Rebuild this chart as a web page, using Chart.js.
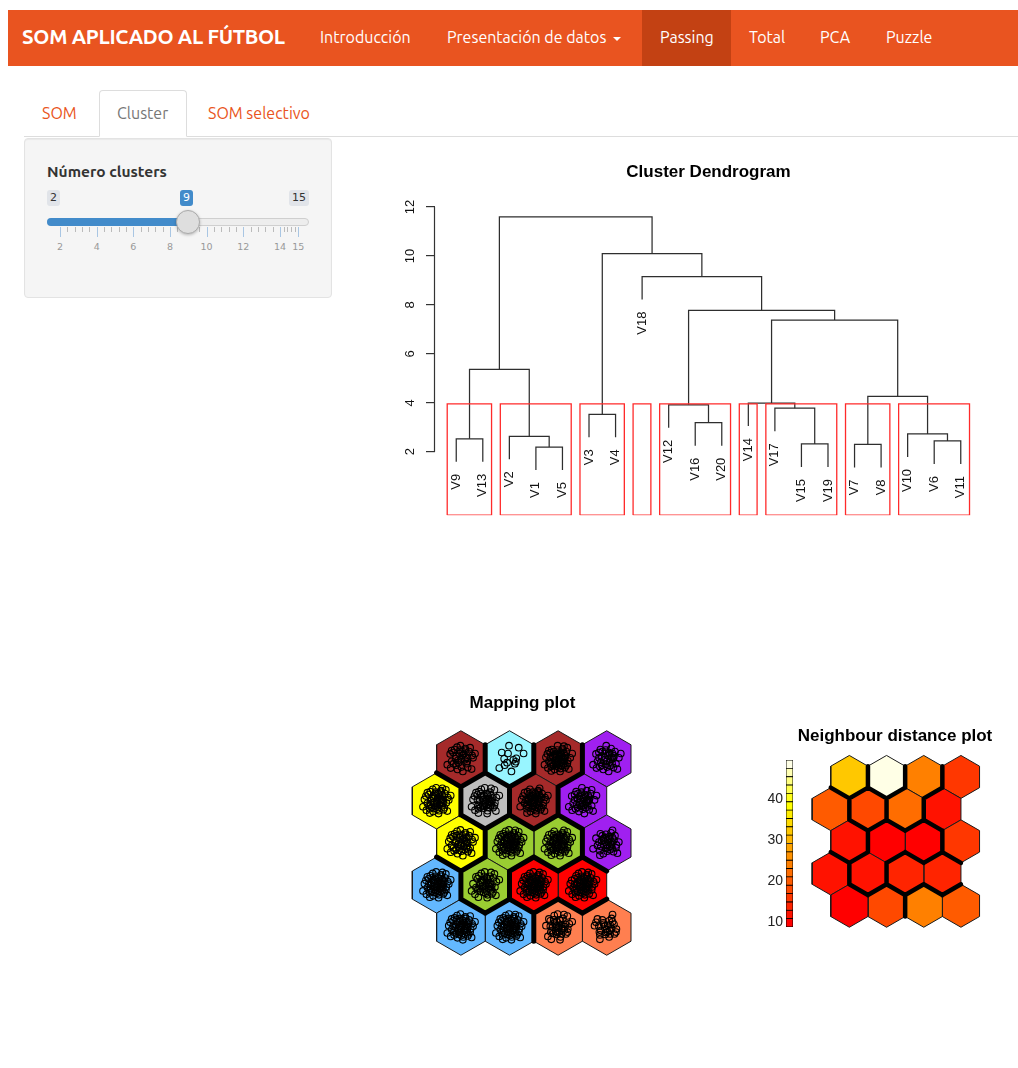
<!DOCTYPE html>
<html>
<head>
<meta charset="utf-8">
<title>SOM aplicado al fútbol</title>
<script src="https://cdn.jsdelivr.net/npm/chart.js@4.4.1/dist/chart.umd.min.js"></script>
<style>
  html, body { margin: 0; padding: 0; background: #fff; width: 1018px; height: 1068px; overflow: hidden;
               font-family: "Ubuntu", "Open Sans", "Noto Sans", sans-serif; }
  .nav { position: absolute; left: 8px; top: 10px; width: 1010px; height: 56px; background: #E95420; }
  .nav .active { position: absolute; left: 634px; top: 0; width: 89px; height: 56px; background: #C34113; }
  .nav .brand { position: absolute; top: 0; line-height: 54px; color: #fff; font-weight: 700; font-size: 20.5px; letter-spacing: -0.3px; white-space: nowrap; }
  .nav .item { position: absolute; top: 0; line-height: 54px; color: #fff; font-size: 16px; white-space: nowrap; }
  .caret { display: inline-block; width: 0; height: 0; margin-left: 7px; vertical-align: middle;
           border-top: 4px solid #fff; border-left: 4px solid transparent; border-right: 4px solid transparent; }
  .tabline { position: absolute; left: 24px; top: 136px; width: 994px; height: 0; border-bottom: 1px solid #ddd; }
  .tabbox { position: absolute; left: 99px; top: 90px; width: 88px; height: 47px; box-sizing: border-box;
            border: 1px solid #ddd; border-bottom-color: #fff; border-radius: 4px 4px 0 0; background: #fff; }
  .tab { position: absolute; top: 103px; line-height: 20px; font-size: 16px; white-space: nowrap; }
  .well { position: absolute; left: 24px; top: 138px; width: 308px; height: 160px; box-sizing: border-box;
          background: #f5f5f5; border: 1px solid #e3e3e3; border-radius: 4px; box-shadow: inset 0 1px 1px rgba(0,0,0,.05); }
  .lbl { position: absolute; left: 47px; top: 162px; line-height: 20px; font-size: 15.5px; font-weight: 600; color: #333; white-space: nowrap; }
  .sl-box { position: absolute; top: 190px; height: 16px; line-height: 16px; font-size: 11px; padding: 0 3px;
            border-radius: 3px; font-family: Verdana, "DejaVu Sans", sans-serif; }
  .sl-bar { position: absolute; left: 47px; top: 218px; width: 262px; height: 8px; box-sizing: border-box;
            background: #ededed; border: 1px solid #cfcfcf; border-radius: 4px; }
  .sl-fill { position: absolute; left: 47px; top: 218px; width: 141px; height: 8px; background: #428bca; border-radius: 4px 0 0 4px; }
  .sl-handle { position: absolute; left: 176px; top: 210px; width: 24px; height: 24px; box-sizing: border-box; border-radius: 50%;
               background: #dedede; border: 1px solid #ababab; box-shadow: 0 1px 3px rgba(0,0,0,.25); }
  .tick { position: absolute; top: 227px; width: 1px; }
  .tlab { position: absolute; top: 240px; width: 20px; margin-left: -10px; text-align: center; line-height: 14px;
          font-size: 9.5px; color: #999; font-family: Verdana, "DejaVu Sans", sans-serif; }
  canvas { position: absolute; }
</style>
</head>
<body>

<div class="nav">
  <div class="active"></div>
  <span class="brand" style="left:14px">SOM APLICADO AL FÚTBOL</span>
  <span class="item" style="left:312px">Introducción</span>
  <span class="item" style="left:439px">Presentación de datos<b class="caret"></b></span>
  <span class="item" style="left:652px">Passing</span>
  <span class="item" style="left:741px">Total</span>
  <span class="item" style="left:812px">PCA</span>
  <span class="item" style="left:878px">Puzzle</span>
</div>

<div class="tabline"></div>
<div class="tabbox"></div>
<span class="tab" style="left:42px;color:#E95420">SOM</span>
<span class="tab" style="left:117px;color:#777">Cluster</span>
<span class="tab" style="left:208px;color:#E95420">SOM selectivo</span>

<div class="well"></div>
<div class="lbl">Número clusters</div>
<div id="slider"></div>

<canvas id="dendro" width="628" height="381" style="left:390px;top:150px"></canvas>
<canvas id="mapping" width="245" height="280" style="left:400px;top:685px"></canvas>
<canvas id="colorbar" width="45" height="180" style="left:755px;top:755px"></canvas>
<canvas id="neigh" width="200" height="215" style="left:795px;top:720px"></canvas>

<script>
// ---------------- Slider input: number of clusters ----------------
const SLIDER_MIN = 2, SLIDER_MAX = 15, SLIDER_VALUE = 9;
const SLIDER_LABELS = [2, 4, 6, 8, 10, 12, 14, 15];

(function buildSlider() {
  const host = document.getElementById('slider');
  const px = v => 60 + (v - SLIDER_MIN) * (238.3 / (SLIDER_MAX - SLIDER_MIN));
  const add = (cls, style, text) => {
    const d = document.createElement('div');
    d.className = cls; d.setAttribute('style', style);
    if (text !== undefined) d.textContent = text;
    host.appendChild(d);
  };
  add('sl-bar', '');
  add('sl-fill', 'width:' + (px(SLIDER_VALUE) - 47) + 'px');
  // grid: big ticks at labelled values, four small ticks between each pair
  for (let i = 0; i < SLIDER_LABELS.length; i++) {
    const v = SLIDER_LABELS[i];
    add('tick', 'left:' + px(v).toFixed(1) + 'px;height:10px;background:#a9c6e3');
    add('tlab', 'left:' + px(v).toFixed(1) + 'px', String(v));
    if (i < SLIDER_LABELS.length - 1) {
      for (let s = 1; s <= 4; s++) {
        add('tick', 'left:' + px(v + s * 0.4 * (i === SLIDER_LABELS.length - 2 ? 0.5 : 1)).toFixed(1) + 'px;height:5px;background:#bbb');
      }
    }
  }
  add('sl-box', 'left:47px;background:#e1e4e9;color:#333', String(SLIDER_MIN));
  add('sl-box', 'left:289px;background:#e1e4e9;color:#333', String(SLIDER_MAX));
  add('sl-box', 'left:180px;background:#428bca;color:#fff', String(SLIDER_VALUE));
  add('sl-handle', 'left:' + (px(SLIDER_VALUE) - 12) + 'px');
})();

// ---------------- Hierarchical clustering (dendrogram) ----------------
const leafOrder = ['V9','V13','V2','V1','V5','V3','V4','V18','V12','V16','V20','V14','V17','V15','V19','V7','V8','V10','V6','V11'];
// merges in hclust order: a string is a leaf, a number is an earlier merge (1-based)
const mergeLeft   = ['V1','V7','V15','V6','V9','V2','V10','V16','V3','V17','V12','V14', 2, 5, 12, 11,'V18', 9, 14];
const mergeRight  = ['V5','V8','V19','V11','V13', 1, 4,'V20','V4', 3, 8, 10, 7, 6, 13, 15, 16, 17, 18];
const mergeHeight = [2.19, 2.30, 2.32, 2.44, 2.53, 2.63, 2.73, 3.19, 3.53, 3.78, 3.92, 3.99, 4.26, 5.37, 7.38, 7.78, 9.16, 10.10, 11.60];
const yTickValues = [2, 4, 6, 8, 10, 12];
const clusterCount = SLIDER_VALUE;
const HANG = 0.1;
const DENDRO_YMIN = -0.593, DENDRO_YMAX = 12.41;

const leafPos = {};
leafOrder.forEach((n, i) => { leafPos[n] = i + 1; });
const hRange = Math.max(...mergeHeight) - Math.min(...mergeHeight);
const drop = HANG * hRange;
const nodeX = [];
const leafEnd = {};
const linkSets = [];

function childPoint(c, parentH) {
  if (typeof c === 'string') { leafEnd[c] = parentH - drop; return { x: leafPos[c], y: parentH - drop }; }
  return { x: nodeX[c - 1], y: mergeHeight[c - 1] };
}
for (let i = 0; i < mergeHeight.length; i++) {
  const h = mergeHeight[i];
  const a = childPoint(mergeLeft[i], h), b = childPoint(mergeRight[i], h);
  nodeX[i] = (a.x + b.x) / 2;
  linkSets.push({
    data: [{ x: a.x, y: a.y }, { x: a.x, y: h }, { x: b.x, y: h }, { x: b.x, y: b.y }],
    showLine: true, borderColor: '#2e2e2e', borderWidth: 1.25, pointRadius: 0, fill: false, order: 2
  });
}

// cut tree into k groups (as rect.hclust does)
const sortedH = [...mergeHeight].sort((p, q) => q - p);
const cutH = (sortedH[clusterCount - 2] + sortedH[clusterCount - 1]) / 2;
function leavesOf(c) {
  if (typeof c === 'string') return [leafPos[c]];
  return leavesOf(mergeLeft[c - 1]).concat(leavesOf(mergeRight[c - 1]));
}
const groups = [];
(function cut(c) {
  if (typeof c === 'number' && mergeHeight[c - 1] > cutH) { cut(mergeLeft[c - 1]); cut(mergeRight[c - 1]); }
  else groups.push(leavesOf(c));
})(mergeHeight.length);

const rectSets = groups.map(g => {
  const l = Math.min(...g) - 0.34, r = Math.max(...g) + 0.33;
  return {
    data: [{ x: l, y: DENDRO_YMIN }, { x: l, y: cutH }, { x: r, y: cutH }, { x: r, y: DENDRO_YMIN }, { x: l, y: DENDRO_YMIN }],
    showLine: true, borderColor: '#ff2a2a', borderWidth: 1.3, pointRadius: 0, fill: false, order: 1
  };
});

const dendroDecor = {
  id: 'dendroDecor',
  afterDatasetsDraw(chart) {
    const { ctx, scales: { x, y } } = chart;
    ctx.save();
    // axis line spanning the labelled range only
    ctx.strokeStyle = '#333'; ctx.lineWidth = 1.2;
    ctx.beginPath();
    ctx.moveTo(y.right - 0.5, y.getPixelForValue(yTickValues[0]));
    ctx.lineTo(y.right - 0.5, y.getPixelForValue(yTickValues[yTickValues.length - 1]));
    ctx.stroke();
    // leaf labels, written upwards and hanging below each leaf
    ctx.font = '13px "Liberation Sans", Arial, sans-serif';
    ctx.fillStyle = '#111';
    ctx.textAlign = 'right';
    ctx.textBaseline = 'middle';
    leafOrder.forEach(n => {
      ctx.save();
      ctx.translate(x.getPixelForValue(leafPos[n]), y.getPixelForValue(leafEnd[n]) + 12);
      ctx.rotate(-Math.PI / 2);
      ctx.fillText(n, 0, 0);
      ctx.restore();
    });
    ctx.restore();
  }
};

new Chart(document.getElementById('dendro'), {
  type: 'scatter',
  data: { datasets: [...linkSets, ...rectSets] },
  options: {
    responsive: false, animation: false, events: [],
    layout: { autoPadding: false, padding: { left: 0, right: 36, top: 0, bottom: 7 } },
    plugins: {
      legend: { display: false }, tooltip: { enabled: false },
      title: { display: true, text: 'Cluster Dendrogram', fullSize: false, color: '#000',
               font: { family: '"Liberation Sans", Arial, sans-serif', size: 17, weight: 'bold', lineHeight: 1 },
               padding: { top: 14, bottom: 16 } }
    },
    scales: {
      x: { type: 'linear', display: false, min: 0.2, max: 20.8 },
      y: {
        type: 'linear', min: DENDRO_YMIN, max: DENDRO_YMAX,
        afterFit(s) { s.width = 45; },
        afterBuildTicks(s) { s.ticks = yTickValues.map(v => ({ value: v })); },
        border: { display: false },
        grid: { drawOnChartArea: false, drawTicks: true, tickLength: 9, color: '#333', lineWidth: 1.2 },
        ticks: { autoSkip: false, minRotation: 90, maxRotation: 90, crossAlign: 'center', padding: 8, color: '#111',
                 font: { family: '"Liberation Sans", Arial, sans-serif', size: 13 } }
      }
    }
  },
  plugins: [dendroDecor]
});

// ---------------- SOM grid (4 x 5 hexagonal) ----------------
const GRID_X = 4, GRID_Y = 5;
// one entry per unit, bottom row first, left to right
const unitCluster = [
  'blue','blue','coral','coral',
  'blue','green','red','red',
  'yellow','green','green','purple',
  'yellow','gray','brown','purple',
  'brown','cyan','brown','purple'
];
const clusterColor = {
  blue: '#63B8FF', coral: '#FF7F50', green: '#9ACD32', red: '#FF0000', yellow: '#FFFF00',
  purple: '#A020F0', gray: '#BEBEBE', brown: '#A52A2A', cyan: '#98F5FF'
};
const unitHits = [
  60, 64, 42, 30,
  64, 48, 64, 62,
  50, 64, 60, 40,
  58, 52, 56, 46,
  38, 14, 60, 40
];
// scatter offsets (grid units) used to spread mapped samples inside a unit
const spread = [
  [0.02,0.04],[-0.07,0.09],[0.10,-0.03],[-0.12,-0.07],[0.05,0.13],[-0.02,-0.11],[0.15,0.06],[-0.16,0.02],
  [0.07,-0.14],[-0.09,0.15],[0.19,-0.10],[-0.04,0.02],[0.00,-0.05],[0.12,0.11],[-0.14,-0.16],[0.06,-0.07],
  [-0.22,0.10],[0.09,0.21],[0.25,0.02],[-0.07,-0.22],[0.03,0.07],[-0.10,0.05],[0.14,-0.18],[-0.02,0.18],
  [0.17,0.15],[-0.19,-0.05],[0.01,-0.17],[0.10,0.02],[-0.06,-0.03],[0.22,-0.21],[-0.13,0.19],[0.06,0.10],
  [-0.28,-0.12],[0.11,-0.10],[-0.03,0.11],[0.29,0.11],[-0.10,-0.13],[0.04,-0.26],[-0.16,0.13],[0.14,0.01],
  [-0.01,0.27],[0.08,-0.02],[-0.21,-0.19],[0.19,0.23],[-0.05,-0.08],[0.13,-0.06],[-0.11,0.00],[0.03,0.15],
  [0.23,0.07],[-0.08,0.24],[0.00,0.00],[-0.15,-0.10],[0.10,0.18],[-0.19,0.17],[0.16,-0.14],[-0.03,-0.15],
  [0.07,0.05],[-0.25,0.03],[0.05,-0.20],[0.20,-0.04],[-0.06,0.06],[0.12,0.26],[-0.14,-0.25],[0.02,-0.10]
];
// mean distance of each unit to its neighbours, bottom row first
const neighbourDist = [
  10.5, 18.0, 24.0, 20.0,
  11.0, 12.5, 13.2, 14.5,
  12.0,  8.9,  9.5, 15.5,
  20.5, 18.5, 22.0, 11.5,
  32.0, 49.6, 24.5, 16.5
];
const heatColors = ['#FF0000','#FF1200','#FF2400','#FF3700','#FF4900','#FF5B00','#FF6D00','#FF8000','#FF9200','#FFA400',
                    '#FFB600','#FFC800','#FFDB00','#FFED00','#FFFF00','#FFFF1A','#FFFF4D','#FFFF80','#FFFFB3','#FFFFE6'];
const colorbarTicks = [10, 20, 30, 40];

const SQ3 = Math.sqrt(3);
function unitCenter(i) {
  const row = Math.floor(i / GRID_X) + 1, col = (i % GRID_X) + 1;
  return { x: col + 0.5 * (row % 2), y: row * SQ3 / 2 };
}
function hexOutline(c) {
  const pts = [];
  for (let k = 0; k <= 6; k++) {
    const a = Math.PI / 2 + k * Math.PI / 3;
    pts.push({ x: c.x + Math.cos(a) / SQ3, y: c.y + Math.sin(a) / SQ3 });
  }
  return pts;
}
function hexSets(fills) {
  return unitCluster.map((_, i) => ({
    data: hexOutline(unitCenter(i)), showLine: true, fill: 'shape', backgroundColor: fills[i],
    borderColor: '#1a1a1a', borderWidth: 1, pointRadius: 0, order: 3
  }));
}
// shared edges between neighbouring units of different clusters
function boundarySet(width) {
  const pts = [];
  for (let i = 0; i < unitCluster.length; i++) {
    for (let j = i + 1; j < unitCluster.length; j++) {
      if (unitCluster[i] === unitCluster[j]) continue;
      const a = unitCenter(i), b = unitCenter(j);
      const dx = b.x - a.x, dy = b.y - a.y;
      if (Math.hypot(dx, dy) > 1.01) continue;
      const mx = (a.x + b.x) / 2, my = (a.y + b.y) / 2, h = 0.5 / SQ3;
      pts.push({ x: mx + dy * h, y: my - dx * h }, { x: mx - dy * h, y: my + dx * h }, { x: NaN, y: NaN });
    }
  }
  return { data: pts, showLine: true, spanGaps: false, borderColor: '#000', borderWidth: width,
           borderCapStyle: 'round', pointRadius: 0, fill: false, order: 2 };
}
// scale limits so that one grid unit has the same pixel size on both axes
function hexScales(width, height, cx, cy, ppu) {
  return {
    x: { type: 'linear', display: false, min: 2.75 - cx / ppu, max: 2.75 - cx / ppu + width / ppu },
    y: { type: 'linear', display: false, min: (GRID_Y + 1) * SQ3 / 4 - cy / ppu, max: (GRID_Y + 1) * SQ3 / 4 - cy / ppu + height / ppu }
  };
}
const titleFont = { family: '"Liberation Sans", Arial, sans-serif', size: 17, weight: 'bold', lineHeight: 1 };

// mapping plot: samples spread around the unit they map to
const samplePts = [];
unitHits.forEach((n, i) => {
  const c = unitCenter(i), start = (i * 17) % spread.length;
  for (let k = 0; k < n; k++) {
    const o = spread[(start + k) % spread.length];
    samplePts.push({ x: c.x + o[0], y: c.y + o[1] });
  }
});

new Chart(document.getElementById('mapping'), {
  type: 'scatter',
  data: { datasets: [
    ...hexSets(unitCluster.map(c => clusterColor[c])),
    boundarySet(5),
    { data: samplePts, pointStyle: 'circle', pointRadius: 3.3, pointBorderWidth: 1.1,
      pointBorderColor: '#000', pointBackgroundColor: 'rgba(0,0,0,0)', order: 1 }
  ] },
  options: {
    responsive: false, animation: false, events: [],
    layout: { autoPadding: false, padding: 0 },
    plugins: { legend: { display: false }, tooltip: { enabled: false },
      title: { display: true, text: 'Mapping plot', color: '#000', font: titleFont, padding: { top: 10, bottom: 5 } } },
    scales: hexScales(245, 248, 121.65, 122, 48.6)
  }
});

// neighbour distance plot
const zMin = Math.min(...neighbourDist), zMax = Math.max(...neighbourDist);
const heatOf = v => heatColors[Math.min(heatColors.length - 1, Math.floor((v - zMin) / (zMax - zMin) * heatColors.length))];

new Chart(document.getElementById('neigh'), {
  type: 'scatter',
  data: { datasets: [ ...hexSets(neighbourDist.map(heatOf)), boundarySet(4.5) ] },
  options: {
    responsive: false, animation: false, events: [],
    layout: { autoPadding: false, padding: 0 },
    plugins: { legend: { display: false }, tooltip: { enabled: false },
      title: { display: true, text: 'Neighbour distance plot', color: '#000', font: titleFont, padding: { top: 8, bottom: 5 } } },
    scales: hexScales(200, 185, 100.85, 93.65, 37.2)
  }
});

// colour key
const zStep = (zMax - zMin) / heatColors.length;
new Chart(document.getElementById('colorbar'), {
  type: 'bar',
  data: {
    labels: [''],
    datasets: heatColors.map((col, k) => ({
      data: [[zMin + k * zStep, zMin + (k + 1) * zStep]], backgroundColor: col, borderColor: '#000',
      borderWidth: 0.8, borderSkipped: false, grouped: false, barPercentage: 1, categoryPercentage: 1
    }))
  },
  options: {
    responsive: false, animation: false, events: [],
    layout: { autoPadding: false, padding: { top: 5, bottom: 8, right: 7, left: 0 } },
    plugins: { legend: { display: false }, tooltip: { enabled: false } },
    scales: {
      x: { display: false },
      y: {
        min: zMin, max: zMax,
        afterFit(s) { s.width = 31; s.paddingTop = 0; s.paddingBottom = 0; },
        afterBuildTicks(s) { s.ticks = colorbarTicks.map(v => ({ value: v })); },
        border: { display: false },
        grid: { display: false, drawTicks: false },
        ticks: { padding: 3, color: '#222', font: { family: '"Liberation Sans", Arial, sans-serif', size: 14 } }
      }
    }
  }
});
</script>
</body>
</html>
